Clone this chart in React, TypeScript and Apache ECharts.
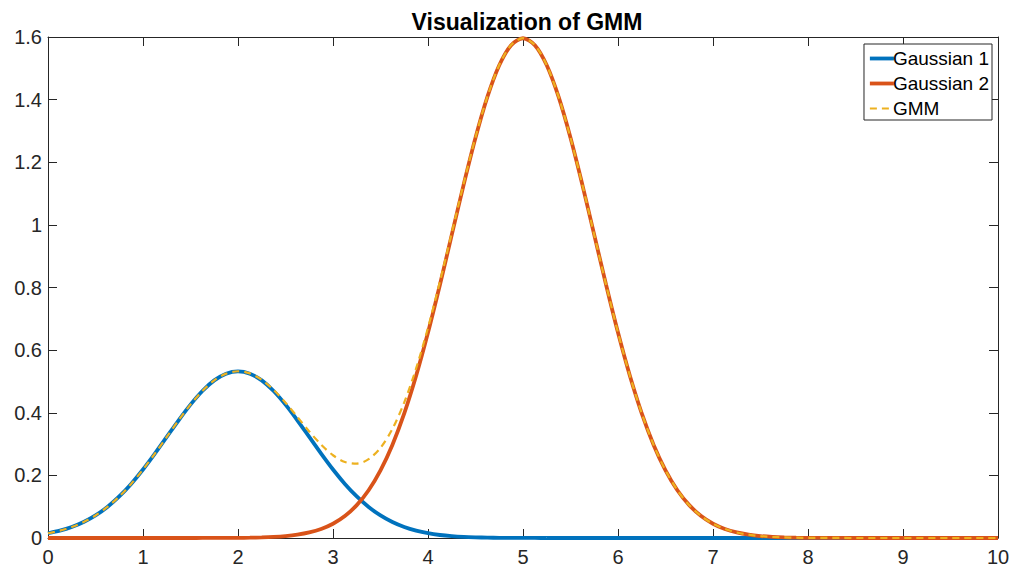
import React, { useEffect, useRef } from "react";
import * as echarts from "echarts";

const xs = [
  0, 0.125, 0.25, 0.375, 0.5, 0.625, 0.75, 0.875,
  1, 1.125, 1.25, 1.375, 1.5, 1.625, 1.75, 1.875,
  2, 2.125, 2.25, 2.375, 2.5, 2.625, 2.75, 2.875,
  3, 3.125, 3.25, 3.375, 3.5, 3.625, 3.75, 3.875,
  4, 4.125, 4.25, 4.375, 4.5, 4.625, 4.75, 4.875,
  5, 5.125, 5.25, 5.375, 5.5, 5.625, 5.75, 5.875,
  6, 6.125, 6.25, 6.375, 6.5, 6.625, 6.75, 6.875,
  7, 7.125, 7.25, 7.375, 7.5, 7.625, 7.75, 7.875,
  8, 8.125, 8.25, 8.375, 8.5, 8.625, 8.75, 8.875,
  9, 9.125, 9.25, 9.375, 9.5, 9.625, 9.75, 9.875,
  10,
];

const gaussian1 = [
  0.0152, 0.0234, 0.035, 0.0509, 0.072, 0.0991, 0.1327, 0.1727,
  0.2187, 0.2694, 0.3227, 0.376, 0.426, 0.4695, 0.5033, 0.5247,
  0.532, 0.5247, 0.5033, 0.4695, 0.426, 0.376, 0.3227, 0.2694,
  0.2187, 0.1727, 0.1327, 0.0991, 0.072, 0.0509, 0.035, 0.0234,
  0.0152, 0.0096, 0.0059, 0.0035, 0.0021, 0.0012, 0.0006, 0.0003,
  0.0002, 0.0001, 0, 0, 0, 0, 0, 0,
  0, 0, 0, 0, 0, 0, 0, 0,
  0, 0, 0, 0, 0, 0, 0, 0,
  0, 0, 0, 0, 0, 0, 0, 0,
  0, 0, 0, 0, 0, 0, 0, 0,
  0,
];

const gaussian2 = [
  0, 0, 0, 0, 0, 0, 0, 0,
  0, 0, 0, 0, 0, 0.0001, 0.0001, 0.0003,
  0.0005, 0.001, 0.0019, 0.0035, 0.0062, 0.0106, 0.0177, 0.0288,
  0.0456, 0.0701, 0.1049, 0.1526, 0.216, 0.2973, 0.398, 0.5181,
  0.6561, 0.8081, 0.968, 1.1279, 1.278, 1.4085, 1.5098, 1.574,
  1.596, 1.574, 1.5098, 1.4085, 1.278, 1.1279, 0.968, 0.8081,
  0.6561, 0.5181, 0.398, 0.2973, 0.216, 0.1526, 0.1049, 0.0701,
  0.0456, 0.0288, 0.0177, 0.0106, 0.0062, 0.0035, 0.0019, 0.001,
  0.0005, 0.0003, 0.0001, 0.0001, 0, 0, 0, 0,
  0, 0, 0, 0, 0, 0, 0, 0,
  0,
];

const gmm = [
  0.0152, 0.0234, 0.035, 0.0509, 0.072, 0.0991, 0.1327, 0.1727,
  0.2187, 0.2694, 0.3227, 0.376, 0.426, 0.4696, 0.5034, 0.525,
  0.5325, 0.5257, 0.5052, 0.473, 0.4322, 0.3866, 0.3404, 0.2982,
  0.2643, 0.2428, 0.2376, 0.2517, 0.288, 0.3482, 0.433, 0.5415,
  0.6713, 0.8177, 0.9739, 1.1314, 1.2801, 1.4097, 1.5104, 1.5743,
  1.5962, 1.5741, 1.5098, 1.4085, 1.278, 1.1279, 0.968, 0.8081,
  0.6561, 0.5181, 0.398, 0.2973, 0.216, 0.1526, 0.1049, 0.0701,
  0.0456, 0.0288, 0.0177, 0.0106, 0.0062, 0.0035, 0.0019, 0.001,
  0.0005, 0.0003, 0.0001, 0.0001, 0, 0, 0, 0,
  0, 0, 0, 0, 0, 0, 0, 0,
  0,
];

const seriesNames = ["Gaussian 1", "Gaussian 2", "GMM"];
const titleText = "Visualization of GMM";

const FONT = "'Liberation Sans', Arial, Helvetica, sans-serif";
const AX = "#262626";

export default function App() {
  const ref = useRef<HTMLDivElement>(null);
  useEffect(() => {
    document.body.style.margin = "0";
    if (!ref.current) return;
    const chart = echarts.init(ref.current, undefined, { renderer: "svg" });
    const pair = (ys: number[]) => xs.map((x, i) => [x, ys[i]]);
    const axisCommon = {
      axisLine: { show: true, onZero: false, lineStyle: { color: AX, width: 1 } },
      axisTick: { show: true, inside: true, length: 9, lineStyle: { color: AX, width: 1 } },
      splitLine: { show: false },
    };
    chart.setOption({
      animation: false,
      backgroundColor: "#ffffff",
      title: {
        text: titleText,
        left: 522,
        top: 5,
        textAlign: "center",
        textStyle: { fontFamily: FONT, fontSize: 23, fontWeight: "bold", color: "#000" },
      },
      legend: {
        orient: "vertical",
        right: 21,
        top: 44,
        data: [
          { name: seriesNames[0], lineStyle: { width: 3.8 } },
          { name: seriesNames[1], lineStyle: { width: 3.8 } },
          { name: seriesNames[2], lineStyle: { width: 2.2 } },
        ],
        itemWidth: 24,
        itemHeight: 12,
        itemGap: 6,
        padding: [5, 3, 2, 4],
        borderColor: AX,
        borderWidth: 1,
        backgroundColor: "#fff",
        itemStyle: { opacity: 0 },
        textStyle: { fontFamily: FONT, fontSize: 19, color: "#000", padding: [0, 0, 0, -6] },
      },
      grid: { left: 48, right: 15, top: 37, bottom: 34, containLabel: false },
      xAxis: [
        {
          type: "value",
          position: "bottom",
          min: 0,
          max: 10,
          interval: 1,
          ...axisCommon,
          axisLabel: { fontFamily: FONT, fontSize: 20, color: AX, margin: 9 },
        },
        {
          type: "value",
          position: "top",
          min: 0,
          max: 10,
          interval: 1,
          ...axisCommon,
          axisLabel: { show: false },
        },
      ],
      yAxis: [
        {
          type: "value",
          position: "left",
          min: 0,
          max: 1.6,
          interval: 0.2,
          ...axisCommon,
          axisLabel: { fontFamily: FONT, fontSize: 20, color: AX, margin: 6 },
        },
        {
          type: "value",
          position: "right",
          min: 0,
          max: 1.6,
          interval: 0.2,
          ...axisCommon,
          axisLabel: { show: false },
        },
      ],
      series: [
        {
          name: seriesNames[0],
          type: "line",
          data: pair(gaussian1),
          smooth: 0.3,
          symbol: "none",
          lineStyle: { color: "#0072BD", width: 3.8 },
          itemStyle: { color: "#0072BD" },
          z: 2,
        },
        {
          name: seriesNames[1],
          type: "line",
          data: pair(gaussian2),
          smooth: 0.3,
          symbol: "none",
          lineStyle: { color: "#D95319", width: 3.8 },
          itemStyle: { color: "#D95319" },
          z: 3,
        },
        {
          name: seriesNames[2],
          type: "line",
          data: pair(gmm),
          smooth: 0.3,
          symbol: "none",
          lineStyle: { color: "#EDB120", width: 2.2, type: [7, 5] },
          itemStyle: { color: "#EDB120" },
          z: 4,
        },
      ],
    });
    return () => chart.dispose();
  }, []);
  return <div ref={ref} style={{ width: 1013, height: 572 }} />;
}
